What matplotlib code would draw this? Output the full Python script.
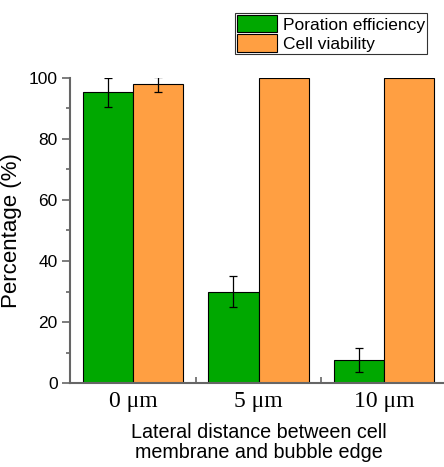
import numpy as np
import matplotlib.pyplot as plt
from matplotlib.ticker import MultipleLocator

# data
groups = ["0 μm", "5 μm", "10 μm"]
poration = [95.3, 30.0, 7.5]
poration_err = [4.7, 5.0, 4.0]
viability = [97.9, 100.0, 100.0]
viability_err = [2.4, 0.0, 0.0]

green = "#00A800"
orange = "#FF9F42"
gray = "#666666"

plt.rcParams["font.family"] = ["Liberation Sans", "DejaVu Sans"]

fig = plt.figure(figsize=(4.44, 4.67), dpi=100)
ax = fig.add_axes([70.25 / 444, 84 / 467, 376.5 / 444, 305 / 467])

x = np.arange(1, len(groups) + 1)
w = 0.4
ax.bar(x - w / 2, poration, w, color=green, edgecolor="black", linewidth=0.8,
       label="Poration efficiency")
ax.bar(x + w / 2, viability, w, color=orange, edgecolor="black", linewidth=0.8,
       label="Cell viability")
ax.errorbar(x - w / 2, poration, yerr=poration_err, fmt="none", ecolor="black",
            elinewidth=0.9, capsize=3, capthick=0.9)
ax.errorbar(x[:1] + w / 2, viability[:1], yerr=viability_err[:1], fmt="none",
            ecolor="black", elinewidth=0.9, capsize=3, capthick=0.9)

ax.set_xlim(0.5, 3.5)
ax.set_ylim(0, 100)
ax.set_xticks(x)
ax.set_xticklabels(groups, family=["Liberation Serif", "DejaVu Serif"], fontsize=17)
ax.xaxis.set_minor_locator(plt.FixedLocator([1.5, 2.5]))
ax.tick_params(axis="x", which="major", length=0, pad=6)
ax.tick_params(axis="x", which="minor", direction="in", length=4, color=gray, width=1.2)
ax.yaxis.set_major_locator(MultipleLocator(20))
ax.yaxis.set_minor_locator(MultipleLocator(10))
ax.tick_params(axis="y", which="major", length=6, color=gray, width=1.2,
               labelsize=12.5, pad=3)
ax.tick_params(axis="y", which="minor", length=3, color=gray, width=1.2)

for s in ["top", "right"]:
    ax.spines[s].set_visible(False)
for s in ["left", "bottom"]:
    ax.spines[s].set_color(gray)
    ax.spines[s].set_linewidth(1.5)

ax.set_ylabel("Percentage (%)", fontsize=16, labelpad=5)
ax.set_xlabel("Lateral distance between cell\nmembrane and bubble edge", fontsize=14.2,
              labelpad=8, linespacing=1.05)

leg = ax.legend(loc="upper left", bbox_to_anchor=(235 / 444, 1 - 13 / 467),
                bbox_transform=fig.transFigure, fontsize=12.5, frameon=True,
                fancybox=False, edgecolor="black", handlelength=2.3, handleheight=1.15,
                handletextpad=0.35, borderpad=0.12, labelspacing=0.1, borderaxespad=0)
leg.get_frame().set_linewidth(0.8)

fig.savefig("out.png", dpi=100)
